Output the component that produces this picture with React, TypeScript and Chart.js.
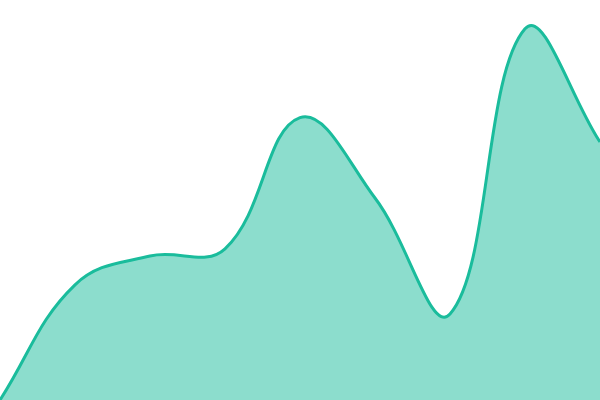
import React, { useEffect, useRef } from "react";
import { Chart, registerables } from "chart.js";

Chart.register(...registerables);

const labels = ["1", "2", "3", "4", "5", "6", "7", "8", "9"];
const values = [0, 28.8, 36, 37.8, 70.6, 50.5, 21.5, 92.8, 64.5];

export default function App() {
  const ref = useRef<HTMLCanvasElement>(null);
  useEffect(() => {
    document.body.style.margin = "0";
    const chart = new Chart(ref.current!, {
      type: "line",
      data: {
        labels,
        datasets: [
          {
            data: values,
            borderColor: "#1abc9c",
            backgroundColor: "rgba(26,188,156,0.5)",
            borderWidth: 3,
            fill: true,
            tension: 0.4,
            pointRadius: 0,
          },
        ],
      },
      options: {
        animation: false,
        responsive: false,
        layout: { padding: 0 },
        plugins: { legend: { display: false }, tooltip: { enabled: false } },
        scales: {
          x: { display: false, offset: false },
          y: { display: false, min: 0, max: 100 },
        },
      },
    });
    return () => chart.destroy();
  }, []);
  return (
    <div style={{ position: "fixed", left: 0, top: 0, width: 600, height: 400 }}>
      <canvas ref={ref} width={600} height={400} />
    </div>
  );
}
